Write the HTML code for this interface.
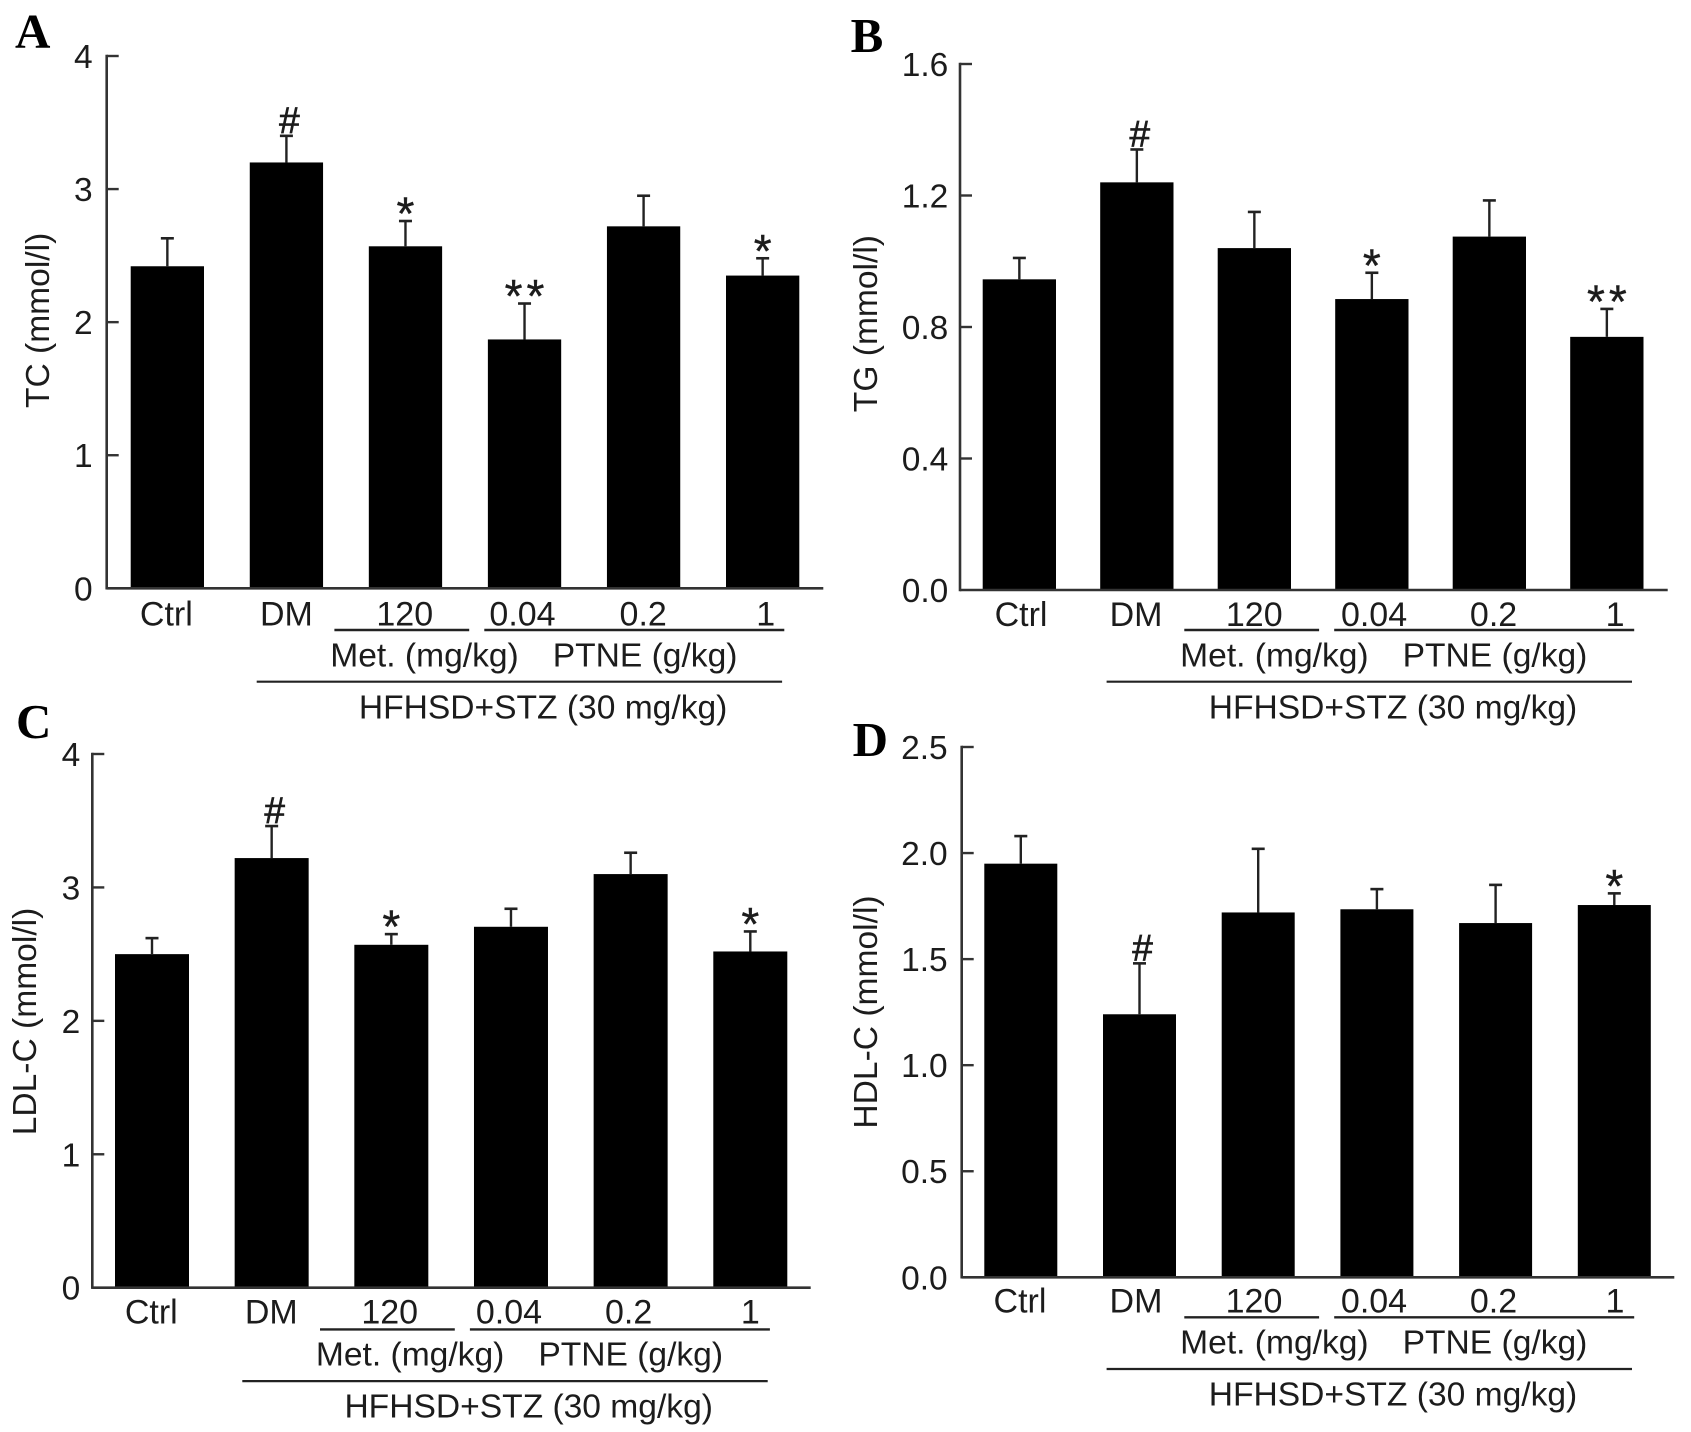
<!DOCTYPE html>
<html lang="en">
<head>
<meta charset="utf-8">
<title>Serum lipid bar charts</title>
<style>
html,body{margin:0;padding:0;background:#fff;width:1691px;height:1432px;overflow:hidden}
svg{display:block}
text{font-family:"Liberation Sans",sans-serif;fill:#1c1c1c}
.letter{font-family:"Liberation Serif",serif;font-weight:700;font-size:49px;fill:#000}
</style>
</head>
<body>
<svg id="chart" xmlns="http://www.w3.org/2000/svg" width="1691" height="1432" viewBox="0 0 1691 1432"></svg>
<script>
const categories = ['Ctrl', 'DM', '120', '0.04', '0.2', '1'];

const tcValues = [2.42, 3.20, 2.57, 1.87, 2.72, 2.35];
const tcErrorTops = [2.63, 3.40, 2.76, 2.14, 2.95, 2.48];
const tcMarks = ['', '#', '*', '**', '', '*'];
const tcTicks = ['0', '1', '2', '3', '4'];

const tgValues = [0.945, 1.24, 1.04, 0.885, 1.075, 0.77];
const tgErrorTops = [1.01, 1.34, 1.15, 0.965, 1.185, 0.855];
const tgMarks = ['', '#', '', '*', '', '**'];
const tgTicks = ['0.0', '0.4', '0.8', '1.2', '1.6'];

const ldlValues = [2.50, 3.22, 2.57, 2.705, 3.10, 2.52];
const ldlErrorTops = [2.62, 3.46, 2.65, 2.84, 3.26, 2.67];
const ldlMarks = ['', '#', '*', '', '', '*'];
const ldlTicks = ['0', '1', '2', '3', '4'];

const hdlValues = [1.95, 1.24, 1.72, 1.735, 1.67, 1.755];
const hdlErrorTops = [2.08, 1.48, 2.02, 1.83, 1.85, 1.81];
const hdlMarks = ['', '#', '', '', '', '*'];
const hdlTicks = ['0.0', '0.5', '1.0', '1.5', '2.0', '2.5'];

const NS = 'http://www.w3.org/2000/svg';
const svg = document.getElementById('chart');

function make(parent, tag, attrs, content) {
  const el = document.createElementNS(NS, tag);
  for (const k in attrs) el.setAttribute(k, attrs[k]);
  if (content !== undefined) el.textContent = content;
  parent.appendChild(el);
  return el;
}

function drawPanel(p) {
  const g = make(svg, 'g', {});
  
  

  const tickMin = parseFloat(p.ticks[0]);
  const tickMax = parseFloat(p.ticks[p.ticks.length - 1]);
  const yScale = v => p.y0 - (v - tickMin) / (tickMax - tickMin) * (p.y0 - p.yTop);
  const barLeft = i => p.barStart + i * p.pitch;
  const barCenter = i => barLeft(i) + p.barWidth / 2;

  const letter = make(g, 'text', {x: p.letterX, y: p.letterY, class: 'letter'}, p.letter);
  
  

  categories.forEach((cat, i) => {
    const bar = make(g, 'rect', {
      x: barLeft(i), y: yScale(p.values[i]), width: p.barWidth,
      height: p.y0 - yScale(p.values[i]), fill: '#000'
    });
    
    

    const stem = make(g, 'line', {
      x1: barCenter(i), x2: barCenter(i), y1: yScale(p.values[i]),
      y2: yScale(p.tops[i]), stroke: '#222', 'stroke-width': 2.4
    });
    
    

    const cap = make(g, 'line', {
      x1: barCenter(i) - 6.5, x2: barCenter(i) + 6.5, y1: yScale(p.tops[i]),
      y2: yScale(p.tops[i]), stroke: '#222', 'stroke-width': 2.6
    });
    
    

    const sig = p.marks[i];
    if (sig) {
      const isHash = sig === '#';
      const mark = make(g, 'text', {
        x: barCenter(i) + (isHash ? 3 : 2),
        y: yScale(p.tops[i]) + (isHash ? -3 : 8.5),
        'text-anchor': 'middle',
        'font-size': isHash ? 37 : 46,
        'letter-spacing': isHash ? 0 : 4,
        stroke: '#1c1c1c',
        'stroke-width': isHash ? 0.7 : 0.4
      }, sig);
      
      
    }

    const label = make(g, 'text', {
      x: barCenter(i) + p.labelNudge[i], y: p.y0 + p.labelDrop,
      'text-anchor': 'middle', 'font-size': 34
    }, cat);
    
    
  });

  const yAxis = make(g, 'line', {
    x1: p.axisX, x2: p.axisX, y1: p.yTop - 1.2, y2: p.y0 + 1.2,
    stroke: '#333', 'stroke-width': 2.6
  });
  
  

  const xAxis = make(g, 'line', {
    x1: p.axisX, x2: p.xEnd, y1: p.y0, y2: p.y0,
    stroke: '#333', 'stroke-width': 2.6
  });
  
  

  p.ticks.forEach(t => {
    const v = parseFloat(t);
    if (v !== tickMin) {
      const tick = make(g, 'line', {
        x1: p.axisX, x2: p.axisX + 12, y1: yScale(v), y2: yScale(v),
        stroke: '#333', 'stroke-width': 2.4
      });
      
      
    }
    const tl = make(g, 'text', {
      x: p.axisX - p.tickGap, y: yScale(v) + 12,
      'text-anchor': 'end', 'font-size': 33.5
    }, t);
    
    
  });

  const title = make(g, 'text', {
    transform: 'translate(' + p.titleX + ' ' + p.titleY + ') rotate(-90)',
    'text-anchor': 'middle', 'font-size': 33.6
  }, p.title);
  
  

  const ox = p.groupX;
  const oy = p.groupY;

  const metLine = make(g, 'line', {x1: ox + 227.7, x2: ox + 362.5, y1: oy + 41.7, y2: oy + 41.7, stroke: '#222', 'stroke-width': 2.4});
  
  

  const ptneLine = make(g, 'line', {x1: ox + 377.6, x2: ox + 677.6, y1: oy + 41.7, y2: oy + 41.7, stroke: '#222', 'stroke-width': 2.4});
  
  

  const metText = make(g, 'text', {x: ox + 317.8, y: oy + 78, 'text-anchor': 'middle', 'font-size': 33.6}, 'Met. (mg/kg)');
  
  

  const ptneText = make(g, 'text', {x: ox + 538.4, y: oy + 78, 'text-anchor': 'middle', 'font-size': 33.6}, 'PTNE (g/kg)');
  
  

  const longLine = make(g, 'line', {x1: ox + 150, x2: ox + 675.4, y1: oy + 93.4, y2: oy + 93.4, stroke: '#222', 'stroke-width': 2.2});
  
  

  const modelText = make(g, 'text', {x: ox + 436.4, y: oy + 130, 'text-anchor': 'middle', 'font-size': 33.6}, 'HFHSD+STZ (30 mg/kg)');
  
  
}

drawPanel({
  letter: 'A', letterX: 15, letterY: 47.5, title: 'TC (mmol/l)', titleX: 49, titleY: 320.4,
  values: tcValues, tops: tcErrorTops, marks: tcMarks, ticks: tcTicks,
  axisX: 106.7, yTop: 56, y0: 588.3, xEnd: 823.3, barStart: 130.7, pitch: 119.06, barWidth: 73.3,
  tickGap: 14, groupX: 106.7, groupY: 588.3, labelDrop: 37, labelNudge: [-1, 0, -0.7, -2, -0.4, 3]
});
drawPanel({
  letter: 'B', letterX: 850.6, letterY: 52, title: 'TG (mmol/l)', titleX: 877, titleY: 323.6,
  values: tgValues, tops: tgErrorTops, marks: tgMarks, ticks: tgTicks,
  axisX: 960, yTop: 64, y0: 590, xEnd: 1667.7, barStart: 982.7, pitch: 117.5, barWidth: 73.3,
  tickGap: 11.7, groupX: 956.6, groupY: 588.3, labelDrop: 36, labelNudge: [1.7, -0.8, -0.1, 2.2, 4.2, 8.2]
});
drawPanel({
  letter: 'C', letterX: 16, letterY: 738, title: 'LDL-C (mmol/l)', titleX: 36, titleY: 1021.5,
  values: ldlValues, tops: ldlErrorTops, marks: ldlMarks, ticks: ldlTicks,
  axisX: 92.3, yTop: 754, y0: 1287.7, xEnd: 810.7, barStart: 115, pitch: 119.66, barWidth: 74,
  tickGap: 12, groupX: 92.3, groupY: 1287.7, labelDrop: 36, labelNudge: [-0.7, -0.4, -1.6, -2, -2, 0]
});
drawPanel({
  letter: 'D', letterX: 852.6, letterY: 756, title: 'HDL-C (mmol/l)', titleX: 877, titleY: 1012,
  values: hdlValues, tops: hdlErrorTops, marks: hdlMarks, ticks: hdlTicks,
  axisX: 961.7, yTop: 747, y0: 1277.3, xEnd: 1674.3, barStart: 984.3, pitch: 118.7, barWidth: 73,
  tickGap: 14, groupX: 956.6, groupY: 1275.6, labelDrop: 35.4, labelNudge: [-0.8, -3.5, -4.2, -2.9, -2.1, 0.7]
});
</script>
</body>
</html>
